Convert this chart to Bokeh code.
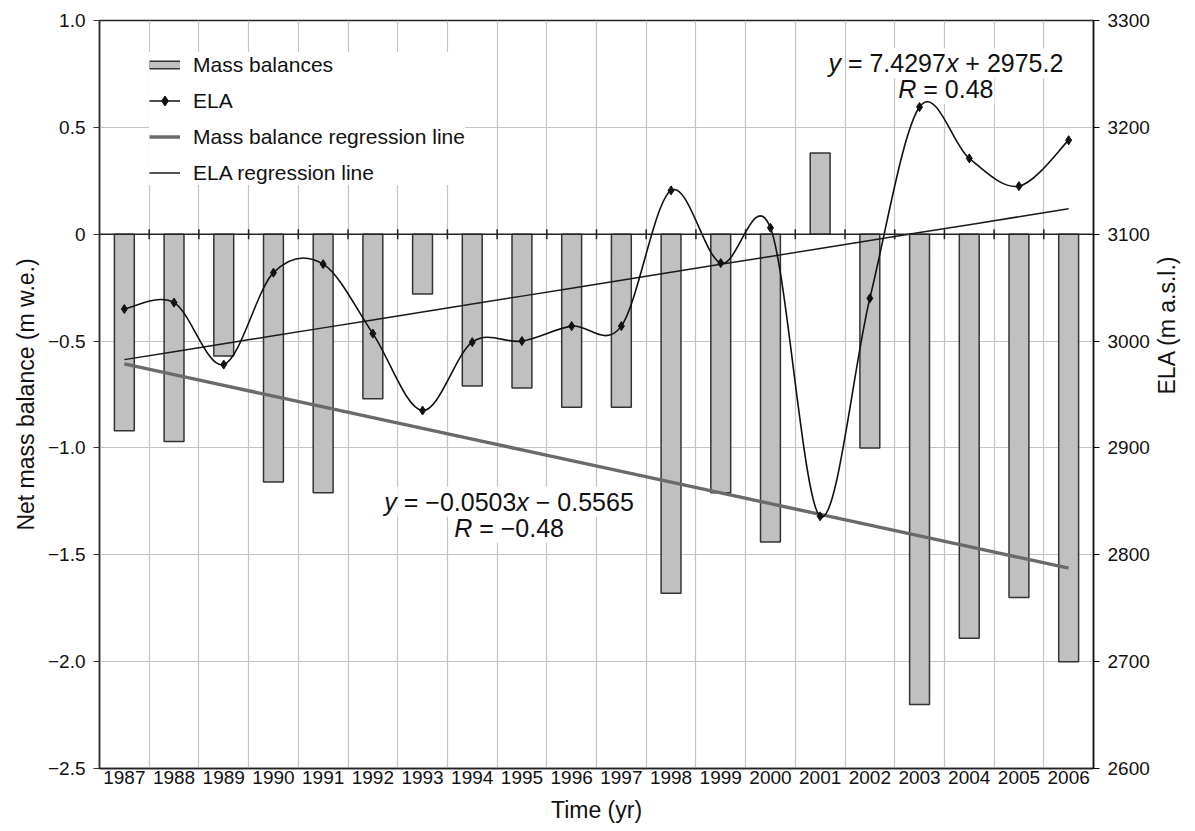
import numpy as np
from bokeh.plotting import figure
from bokeh.models import (Range1d, LinearAxis, FixedTicker, Span, Legend, LegendItem,
                          ColumnDataSource)
from bokeh.core.properties import value
from bokeh.embed import file_html
from bokeh.resources import INLINE

# ---------------- data ----------------
years = [1987, 1988, 1989, 1990, 1991, 1992, 1993, 1994, 1995, 1996,
         1997, 1998, 1999, 2000, 2001, 2002, 2003, 2004, 2005, 2006]
mass_balance = [-0.92, -0.97, -0.57, -1.16, -1.21, -0.77, -0.28, -0.71, -0.72, -0.81,
                -0.81, -1.68, -1.21, -1.44, 0.38, -1.00, -2.20, -1.89, -1.70, -2.00]
ela = [3030, 3036, 2978, 3064, 3072, 3007, 2935, 2999, 3000, 3014,
       3014, 3141, 3073, 3106, 2836, 3040, 3219, 3171, 3145, 3188]
mb_slope, mb_intercept, mb_r = -0.0503, -0.5565, -0.48
ela_slope, ela_intercept, ela_r = 7.4297, 2975.2, 0.48
mb_ticks = [-2.5, -2.0, -1.5, -1.0, -0.5, 0.0, 0.5, 1.0]
ela_ticks = [2600, 2700, 2800, 2900, 3000, 3100, 3200, 3300]

FONT = "Liberation Sans"
MINUS = "\u2212"

def fmt_mb(v):
    if v == 0:
        return "0"
    s = f"{abs(v):.1f}"
    return (MINUS + s) if v < 0 else s

# ---------------- figure ----------------
p = figure(width=1195, height=831, output_backend="svg", toolbar_location=None,
           x_range=Range1d(1986.5, 2006.5), y_range=Range1d(-2.5, 1.0),
           min_border_left=99, min_border_right=97, min_border_top=20,
           min_border_bottom=63)
p.extra_y_ranges = {"ela": Range1d(2600, 3300)}
p.background_fill_color = "white"
p.border_fill_color = "white"
p.outline_line_color = "#222222"
p.outline_line_width = 1.5

# grids
p.xgrid.ticker = FixedTicker(ticks=[y + 0.5 for y in years[:-1]])
p.ygrid.ticker = FixedTicker(ticks=mb_ticks)
for g in (p.xgrid, p.ygrid):
    g.grid_line_color = "#c4c4c4"
    g.grid_line_width = 1.2

TITLE_FS = "23px"

# bottom axis
xa = p.xaxis[0]
xa.ticker = FixedTicker(ticks=years)
xa.major_label_overrides = {y: str(y) for y in years}
xa.major_tick_out = 0
xa.major_tick_in = 0
xa.minor_tick_line_color = None
xa.axis_line_color = "#222222"
xa.axis_line_width = 1.5
xa.major_label_text_font = FONT
xa.major_label_text_font_size = "19px"
xa.major_label_text_color = "#111111"
xa.major_label_standoff = 2
xa.axis_label = "Time (yr)"
xa.axis_label_text_font = FONT
xa.axis_label_text_font_size = TITLE_FS
xa.axis_label_text_font_style = "normal"
xa.axis_label_text_color = "#111111"
xa.axis_label_standoff = 10

# left axis
ya = p.yaxis[0]
ya.ticker = FixedTicker(ticks=mb_ticks)
ya.major_label_overrides = {t: fmt_mb(t) for t in mb_ticks}
ya.major_tick_out = 6
ya.major_tick_in = 0
ya.minor_tick_line_color = None
ya.axis_line_color = "#333333"
ya.axis_line_width = 1.5
ya.major_tick_line_color = "#333333"
ya.major_label_text_font = FONT
ya.major_label_text_font_size = "19px"
ya.major_label_text_color = "#111111"
ya.major_label_standoff = 8
ya.axis_label = "Net mass balance (m w.e.)"
ya.axis_label_text_font = FONT
ya.axis_label_text_font_size = TITLE_FS
ya.axis_label_text_font_style = "normal"
ya.axis_label_text_color = "#111111"
ya.axis_label_standoff = 6

# right axis
ra = LinearAxis(y_range_name="ela", ticker=FixedTicker(ticks=ela_ticks))
ra.major_label_overrides = {t: str(t) for t in ela_ticks}
ra.major_tick_out = 6
ra.major_tick_in = 0
ra.minor_tick_line_color = None
ra.axis_line_color = "#111111"
ra.axis_line_width = 1.5
ra.major_label_text_font = FONT
ra.major_label_text_font_size = "19px"
ra.major_label_text_color = "#111111"
ra.major_label_standoff = 8
ra.axis_label = "ELA (m a.s.l.)"
ra.axis_label_text_font = FONT
ra.axis_label_text_font_size = TITLE_FS
ra.axis_label_text_font_style = "normal"
ra.axis_label_text_color = "#111111"
ra.axis_label_standoff = 14
ra.axis_label_orientation = np.pi / 2
p.add_layout(ra, "right")

# ---------------- equations (drawn first: white boxes only hide grid) ----------------
AW = {" ": 278, "=": 584, "+": 584, MINUS: 584, ".": 278, "x": 500, "y": 500, "R": 722}

def tw(s, fs):
    return sum(AW.get(c, 556) for c in s) * fs / 1000.0

def signed(v, nd):
    return (MINUS if v < 0 else "") + f"{abs(v):.{nd}f}"

def op(v, nd):
    return (" " + MINUS + " " if v < 0 else " + ") + f"{abs(v):.{nd}f}"

EQ_FS = 25
def add_equation(lines, cx):
    data = dict(x=[], y=[], text=[], off=[], style=[])
    for pieces, by in lines:
        total = sum(tw(t, EQ_FS) for t, _ in pieces)
        o = -total / 2.0
        for t, st in pieces:
            lead = len(t) - len(t.lstrip(" "))
            data["x"].append(cx); data["y"].append(by)
            data["text"].append(t.strip(" "))
            data["off"].append(o + tw(" " * lead, EQ_FS))
            data["style"].append(st)
            o += tw(t, EQ_FS)
    src = ColumnDataSource(data)
    p.text(x="x", y="y", text="text", x_offset="off", text_font_style="style", source=src,
           text_font=value(FONT), text_font_size=f"{EQ_FS}px", text_color="#111111",
           text_align="left", text_baseline="alphabetic",
           background_fill_color="white", padding=1)

add_equation([
    ([("y", "italic"), (" = " + signed(ela_slope, 4), "normal"), ("x", "italic"),
      (op(ela_intercept, 1), "normal")], 0.80),
    ([("R", "italic"), (" = " + signed(ela_r, 2), "normal")], 0.68),
], 2003.51)
add_equation([
    ([("y", "italic"), (" = " + signed(mb_slope, 4), "normal"), ("x", "italic"),
      (op(mb_intercept, 4), "normal")], -1.252),
    ([("R", "italic"), (" = " + signed(mb_r, 2), "normal")], -1.374),
], 1994.72)

# ---------------- marks ----------------
bars = p.vbar(x=years, top=0, bottom=mass_balance, width=0.4,
              fill_color="#c0c0c0", line_color="#333333", line_width=1.5)

zero = Span(location=0, dimension="width", line_color="#222222", line_width=1.5)
p.add_layout(zero)
p.scatter(x=[y + 0.5 for y in years[:-1]], y=[0] * (len(years) - 1), marker="dash",
          angle=np.pi / 2, size=10, line_color="#222222", line_width=1.5)

# regression lines
idx = np.arange(1, len(years) + 1)
mb_fit = mb_slope * idx + mb_intercept
ela_fit = ela_slope * idx + ela_intercept
mb_reg = p.line(x=years, y=mb_fit, line_color="#6a6a6a", line_width=3.5)
ela_reg = p.line(x=years, y=ela_fit, line_color="#1a1a1a", line_width=1.5,
                 y_range_name="ela")

# smoothed ELA curve (Catmull-Rom -> cubic Bezier through data points)
xs = np.array(years, dtype=float)
ys = np.array(ela, dtype=float)
n = len(xs)
x0, y0, x1, y1, cx0, cy0, cx1, cy1 = ([] for _ in range(8))
for i in range(n - 1):
    ip, inx = max(i - 1, 0), min(i + 2, n - 1)
    x0.append(xs[i]); y0.append(ys[i]); x1.append(xs[i + 1]); y1.append(ys[i + 1])
    cx0.append(xs[i] + (xs[i + 1] - xs[ip]) / 6.0)
    cy0.append(ys[i] + (ys[i + 1] - ys[ip]) / 6.0)
    cx1.append(xs[i + 1] - (xs[inx] - xs[i]) / 6.0)
    cy1.append(ys[i + 1] - (ys[inx] - ys[i]) / 6.0)
p.bezier(x0=x0, y0=y0, x1=x1, y1=y1, cx0=cx0, cy0=cy0, cx1=cx1, cy1=cy1,
         line_color="#111111", line_width=1.6, y_range_name="ela")
ela_pts = p.scatter(x=years, y=ela, marker="diamond", size=9, fill_color="#111111",
                    line_color="#111111", y_range_name="ela")
# legend proxies (hidden)
ela_proxy = p.line(x=years, y=ela, line_color="#111111", line_width=1.5,
                   y_range_name="ela", visible=False)
bar_edge_proxy = p.line(x=years, y=mass_balance, line_color="#333333", line_width=9,
                        visible=False)
bar_fill_proxy = p.line(x=years, y=mass_balance, line_color="#c0c0c0", line_width=6,
                        visible=False)

# ---------------- legend ----------------
legend = Legend(items=[
    LegendItem(label="Mass balances", renderers=[bar_edge_proxy, bar_fill_proxy]),
    LegendItem(label="ELA", renderers=[ela_proxy, ela_pts]),
    LegendItem(label="Mass balance regression line", renderers=[mb_reg]),
    LegendItem(label="ELA regression line", renderers=[ela_reg]),
], location=(50, 583))
legend.label_text_font = FONT
legend.label_text_font_size = "21px"
legend.label_text_color = "#111111"
legend.glyph_width = 31
legend.glyph_height = 25
legend.label_height = 25
legend.label_standoff = 13
legend.spacing = 11
legend.padding = 8
legend.margin = 0
legend.border_line_color = None
legend.background_fill_color = "white"
legend.background_fill_alpha = 1.0
p.add_layout(legend)

open("out.html", "w").write(file_html(p, INLINE))
